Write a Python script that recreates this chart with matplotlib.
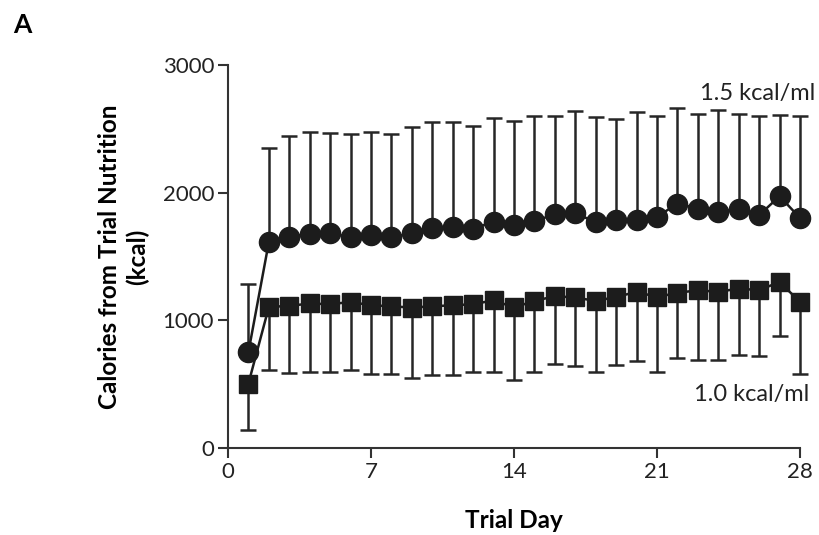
import numpy as np
import matplotlib.pyplot as plt

# Trial days and mean calories
dias = list(range(1, 29))

# 1.5 kcal/ml group: mean and upper end of the error bar
media_15 = [752, 1614, 1654, 1680, 1685, 1649, 1667, 1649, 1685, 1727,
            1732, 1719, 1771, 1750, 1777, 1831, 1837, 1771, 1784, 1784,
            1810, 1915, 1876, 1850, 1876, 1824, 1972, 1802]
sup_15 = [1288, 2346, 2443, 2477, 2469, 2456, 2474, 2458, 2511, 2550,
          2550, 2521, 2581, 2558, 2602, 2602, 2641, 2594, 2576, 2628,
          2602, 2660, 2613, 2647, 2613, 2602, 2607, 2602]

# 1.0 kcal/ml group: mean and lower end of the error bar
media_10 = [505, 1105, 1113, 1132, 1126, 1144, 1118, 1110, 1100, 1110,
            1118, 1126, 1157, 1101, 1152, 1189, 1179, 1152, 1183, 1223,
            1183, 1215, 1236, 1223, 1249, 1236, 1301, 1144]
inf_10 = [139, 614, 591, 596, 596, 614, 583, 578, 549, 570,
          570, 596, 596, 536, 596, 656, 640, 596, 648, 680,
          596, 708, 687, 687, 726, 718, 875, 583]

etiquetas_x = [0, 7, 14, 21, 28]
etiquetas_y = [0, 1000, 2000, 3000]

plt.rcParams['font.family'] = ['Lato', 'DejaVu Sans']

fig = plt.figure(figsize=(8.19, 5.35), dpi=100)
ax = fig.add_axes([0.2784, 0.1626, 0.6984, 0.7159])

negro = '#1c1c1c'

# barras de error: solo hacia arriba (1.5) y solo hacia abajo (1.0)
err_15 = [np.zeros(len(dias)), np.array(sup_15) - np.array(media_15)]
err_10 = [np.array(media_10) - np.array(inf_10), np.zeros(len(dias))]

ax.errorbar(dias, media_15, yerr=err_15, fmt='none', ecolor='#262626',
            elinewidth=1.8, capsize=5.8, capthick=1.8, clip_on=False)
ax.errorbar(dias, media_10, yerr=err_10, fmt='none', ecolor='#262626',
            elinewidth=1.8, capsize=5.8, capthick=1.8, clip_on=False)

ax.plot(dias, media_15, '-o', color=negro, linewidth=1.8,
        markersize=14.5, clip_on=False, zorder=3)
ax.plot(dias, media_10, '-s', color=negro, linewidth=1.8,
        markersize=13, clip_on=False, zorder=3)

ax.text(28.75, 2780, '1.5 kcal/ml', ha='right', va='center', fontsize=17,
        color='#222222')
ax.text(28.45, 420, '1.0 kcal/ml', ha='right', va='center', fontsize=17,
        color='#222222')

ax.set_xlim(0, 28)
ax.set_ylim(0, 3000)
ax.set_xticks(etiquetas_x)
ax.set_yticks(etiquetas_y)
ax.tick_params(labelsize=16, length=7, width=1.5, color='#333333',
               labelcolor='#222222', pad=3)

for lado in ['top', 'right']:
    ax.spines[lado].set_visible(False)
for lado in ['left', 'bottom']:
    ax.spines[lado].set_linewidth(1.5)
    ax.spines[lado].set_color('#333333')

ax.set_xlabel('Trial Day', fontsize=17.5, fontweight='bold')
ax.set_ylabel('Calories from Trial Nutrition\n(kcal)', fontsize=17.5,
              fontweight='bold', linespacing=1.25)
ax.xaxis.set_label_coords(0.5, -0.158)
ax.yaxis.set_label_coords(-0.138, 0.5)

fig.text(0.016, 0.953, 'A', fontsize=19, fontweight='bold', va='center')

fig.savefig('out.png', dpi=100)
